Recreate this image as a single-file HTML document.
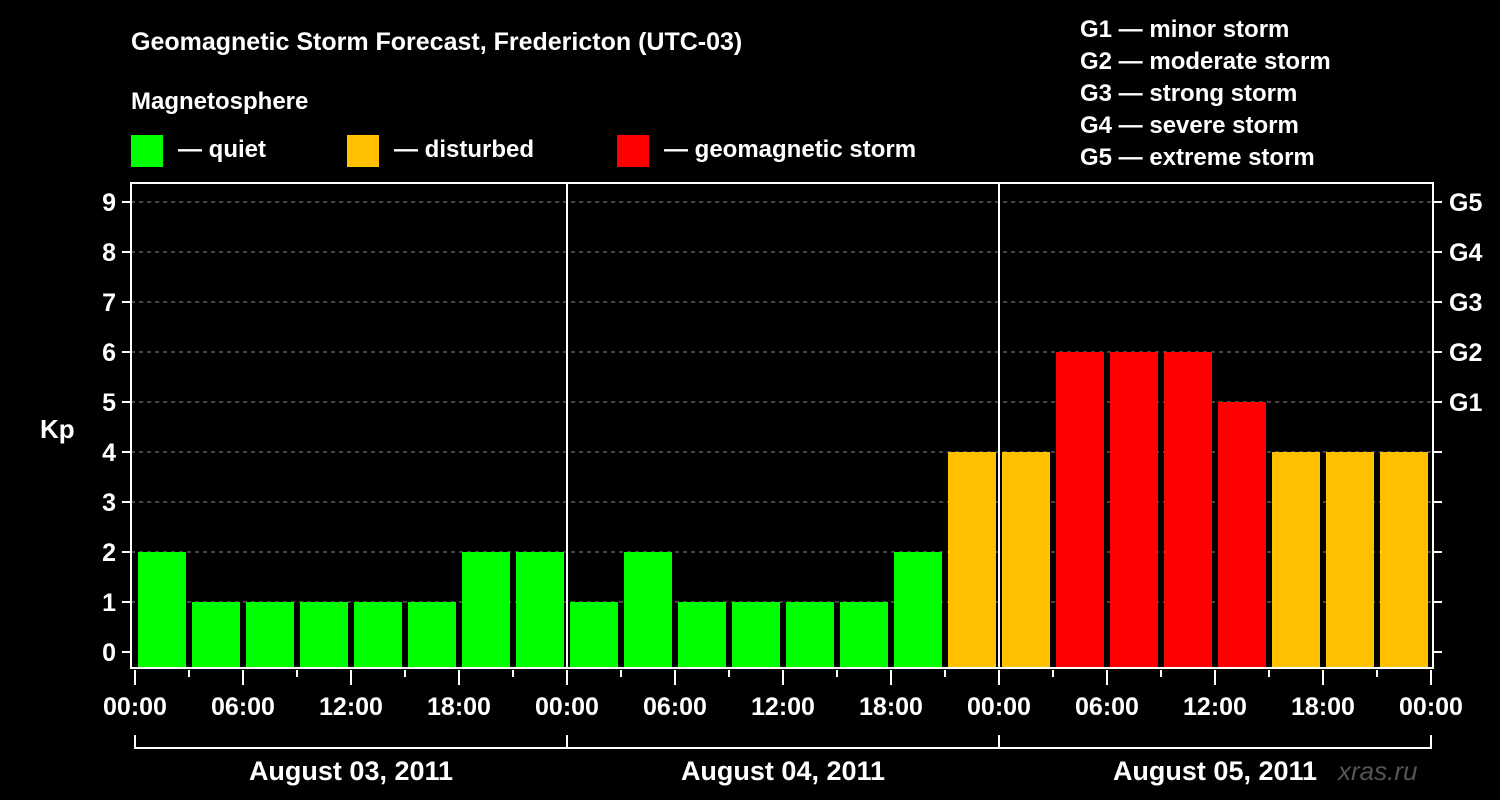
<!DOCTYPE html>
<html><head><meta charset="utf-8"><style>
body{margin:0;background:#000;}
svg{display:block;font-family:"Liberation Sans",Arial,sans-serif;font-weight:bold;}
</style></head><body>
<svg id="c" width="1500" height="800">
<rect width="1500" height="800" fill="#000"/>
<text x="131" y="50" fill="#fff" font-size="25">Geomagnetic Storm Forecast, Fredericton (UTC-03)</text>
<text x="131" y="109" fill="#fff" font-size="24">Magnetosphere</text>
<g><rect x="131" y="135" width="32" height="32" fill="#00ff00"/><text x="178" y="157" fill="#fff" font-size="24">— quiet</text></g>
<g><rect x="347" y="135" width="32" height="32" fill="#ffc000"/><text x="394" y="157" fill="#fff" font-size="24">— disturbed</text></g>
<g><rect x="617" y="135" width="32" height="32" fill="#ff0000"/><text x="664" y="157" fill="#fff" font-size="24">— geomagnetic storm</text></g>
<g fill="#fff" font-size="24">
<text x="1080" y="37">G1 — minor storm</text><text x="1080" y="69">G2 — moderate storm</text><text x="1080" y="101">G3 — strong storm</text><text x="1080" y="133">G4 — severe storm</text><text x="1080" y="165">G5 — extreme storm</text></g>
<text x="40" y="438" fill="#fff" font-size="26">Kp</text>
<text x="1338" y="780" fill="#555" font-size="26" font-style="italic" font-weight="normal">xras.ru</text>
<g id="grid"></g><g id="bars"></g><g id="axes"></g>
</svg>
<script>
const kpValues=[2,1,1,1,1,1,2,2,1,2,1,1,1,1,2,4,4,6,6,6,5,4,4,4];
const yTicks=[0,1,2,3,4,5,6,7,8,9];
const gLabels=["G1","G2","G3","G4","G5"];
const gLevels=[5,6,7,8,9];
const hourLabels=["00:00","06:00","12:00","18:00"];
const dayLabels=["August 03, 2011","August 04, 2011","August 05, 2011"];
const NS="http://www.w3.org/2000/svg";
const X0=135,PXH=18,L=131,R=1433,T=183,B=668;
function xs(h){return X0+h*PXH;}
function ys(v){return 652-v*50;}
function mk(tag,attrs,parent,txt){const e=document.createElementNS(NS,tag);for(const k in attrs)e.setAttribute(k,attrs[k]);if(txt!==undefined)e.textContent=txt;parent.appendChild(e);return e;}
const grid=document.getElementById('grid'),bars=document.getElementById('bars'),axes=document.getElementById('axes');
yTicks.forEach(v=>{
 if(v>0){const g=mk('line',{x1:L,x2:R,y1:ys(v),y2:ys(v),stroke:'#888','stroke-dasharray':'4,4','stroke-width':1},grid);
 
 }
 const t=mk('line',{x1:L-9,x2:L,y1:ys(v),y2:ys(v),stroke:'#fff','stroke-width':2},axes);
 
 
 const r=mk('line',{x1:R,x2:R+9,y1:ys(v),y2:ys(v),stroke:'#fff','stroke-width':2},axes);
 
 
 const l=mk('text',{x:L-15,y:ys(v)+9,fill:'#fff','font-size':25,'text-anchor':'end'},axes,String(v));
 
 
});
gLabels.forEach((g,i)=>{
 const l=mk('text',{x:1449,y:ys(gLevels[i])+9,fill:'#fff','font-size':25},axes,g);
 
 
});
const col=v=>v>=5?'#ff0000':(v>=4?'#ffc000':'#00ff00');
kpValues.forEach((v,i)=>{
 const b=mk('rect',{x:xs(i*3)+3,y:ys(v),width:48,height:B-1-ys(v),fill:col(v)},bars);
 
 
});
mk('rect',{x:L,y:T,width:R-L,height:B-T,fill:'none',stroke:'#fff','stroke-width':2},axes);
for(let d=1;d<dayLabels.length;d++){
 const s=mk('line',{x1:xs(d*24),x2:xs(d*24),y1:T,y2:B,stroke:'#fff','stroke-width':2},axes);
 
 
}
for(let h=0;h<=72;h+=3){
 const major=h%6===0;
 const t=mk('line',{x1:xs(h),x2:xs(h),y1:B+2,y2:B+(major?17:9),stroke:'#fff','stroke-width':2},axes);
 
 
 if(major){const l=mk('text',{x:xs(h),y:B+47,fill:'#fff','font-size':25,'text-anchor':'middle'},axes,hourLabels[(h%24)/6]);
 
 }
}
mk('path',{d:`M${xs(0)},735V748H${xs(72)}V735`,fill:'none',stroke:'#fff','stroke-width':2},axes);
dayLabels.forEach((d,i)=>{
 if(i>0){mk('line',{x1:xs(i*24),x2:xs(i*24),y1:735,y2:748,stroke:'#fff','stroke-width':2},axes);}
 const l=mk('text',{x:xs(i*24+12),y:780,fill:'#fff','font-size':27,'text-anchor':'middle'},axes,d);
 
 
});
</script>
</body></html>
